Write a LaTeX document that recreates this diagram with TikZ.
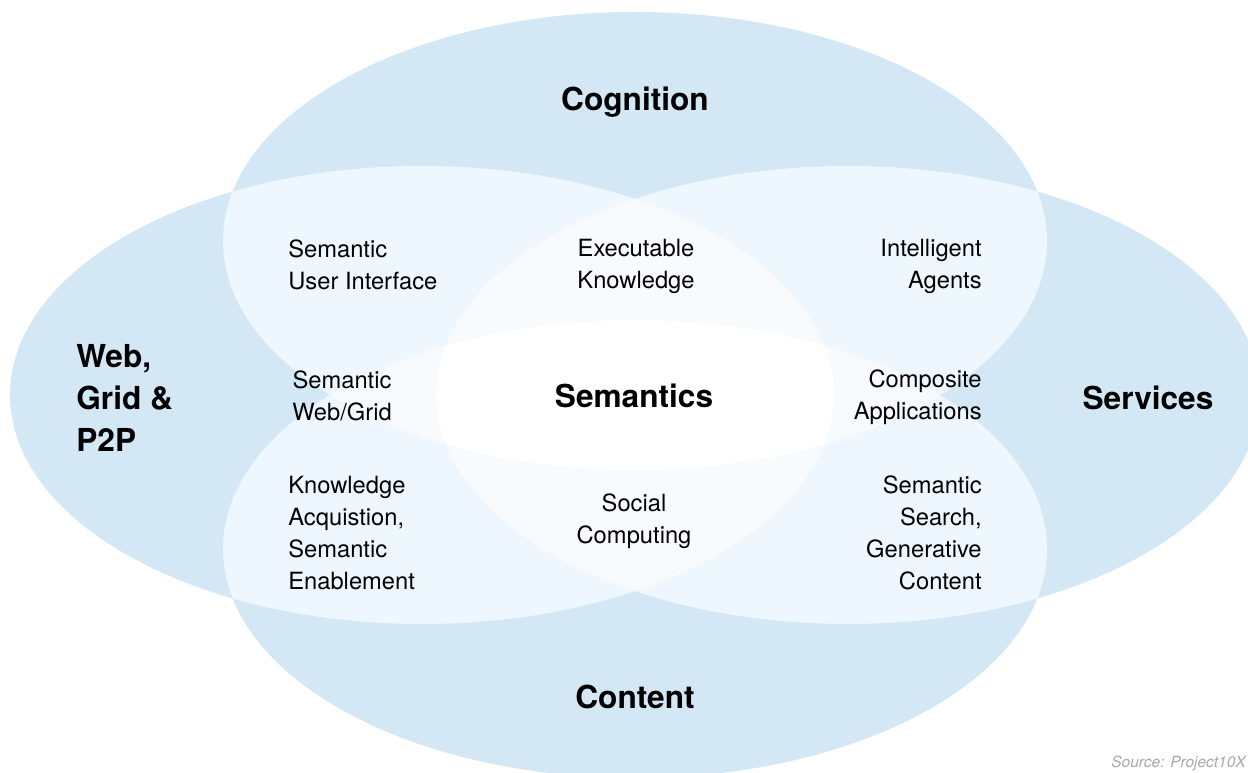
\documentclass[tikz,border=0pt]{standalone}
\usepackage{fontspec}
\setmainfont{TeX Gyre Heros}
\usetikzlibrary{positioning}

\definecolor{vennone}{HTML}{D4E7F4}
\definecolor{venntwo}{HTML}{EEF7FD}
\definecolor{vennthree}{HTML}{F7FBFE}
\definecolor{srcgray}{HTML}{A8A8A8}

% the four sets
\def\cog{(635,532) ellipse [x radius=412, y radius=229]}
\def\con{(635,224) ellipse [x radius=412, y radius=229]}
\def\web{(422,378) ellipse [x radius=412, y radius=229]}
\def\ser{(848,378) ellipse [x radius=412, y radius=229]}

\tikzset{
  setlabel/.style={font=\fontsize{18}{24}\selectfont\bfseries, inner sep=0pt},
  area/.style={font=\fontsize{13.5}{18.2}\selectfont, inner sep=0pt},
}

\begin{document}
\begin{tikzpicture}[x=0.02cm, y=0.02cm]
\useasboundingbox (0,0) rectangle (1248,773);

\fill[vennone] \cog;
\fill[vennone] \con;
\fill[vennone] \web;
\fill[vennone] \ser;

% pairs
\begin{scope} \clip \cog; \fill[venntwo] \web; \end{scope}
\begin{scope} \clip \cog; \fill[venntwo] \ser; \end{scope}
\begin{scope} \clip \con; \fill[venntwo] \web; \end{scope}
\begin{scope} \clip \con; \fill[venntwo] \ser; \end{scope}
\begin{scope} \clip \web; \fill[venntwo] \ser; \end{scope}
\begin{scope} \clip \cog; \fill[venntwo] \con; \end{scope}

% triples
\begin{scope} \clip \cog; \clip \web; \fill[vennthree] \ser; \end{scope}
\begin{scope} \clip \con; \clip \web; \fill[vennthree] \ser; \end{scope}
\begin{scope} \clip \cog; \clip \con; \fill[vennthree] \web; \end{scope}
\begin{scope} \clip \cog; \clip \con; \fill[vennthree] \ser; \end{scope}

% all four
\begin{scope} \clip \cog; \clip \con; \clip \web; \fill[white] \ser; \end{scope}

\node[setlabel] (cognition) at (635,671) {Cognition};
\node[setlabel] (content) at (635,76) {Content};
\node[setlabel] (services) at (1148,375) {Services};
\node[setlabel, align=left, anchor=west] (webgrid) at (76,375) {Web,\\Grid \&\\P2P};
\node[setlabel] (semantics) at (634,377) {Semantics};

\node[area, align=left, anchor=west] (sui) at (288,508) {Semantic\\User Interface};
\node[area, align=center] (exk) at (636,507) {Executable\\Knowledge};
\node[area, align=right, anchor=east] (iag) at (982,507) {Intelligent\\Agents};
\node[area, align=center] (swg) at (342,377) {Semantic\\Web/Grid};
\node[area, align=right, anchor=east] (cap) at (982,376) {Composite\\Applications};
\node[area, align=left, anchor=west] (kas) at (288,240) {Knowledge\\Acquistion,\\Semantic\\Enablement};
\node[area, align=center] (soc) at (634,252) {Social\\Computing};
\node[area, align=right, anchor=east] (ssg) at (982,240) {Semantic\\Search,\\Generative\\Content};

\node[font=\fontsize{8.8}{10}\selectfont\itshape, text=srcgray, inner sep=0pt, anchor=east] (src) at (1246,10) {Source: Project10X};
\end{tikzpicture}
\end{document}
